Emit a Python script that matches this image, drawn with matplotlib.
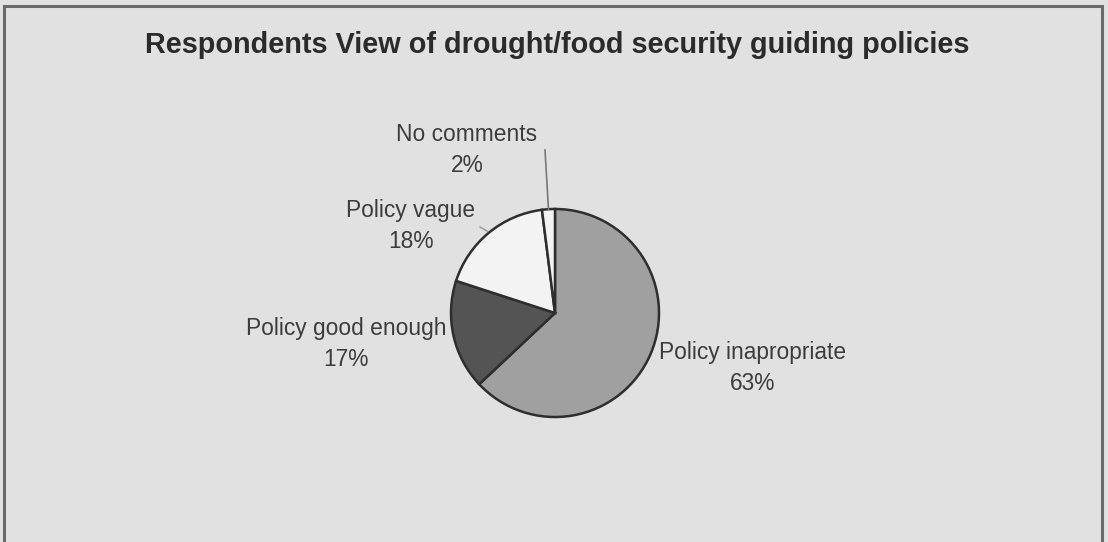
import matplotlib
matplotlib.use("Agg")
from matplotlib import pyplot as plt
from matplotlib.patches import Rectangle
import numpy as np

# chart data
categories = ["Policy inapropriate", "Policy good enough", "Policy vague", "No comments"]
shares = [63, 17, 18, 2]
slice_colors = ["#a0a0a0", "#545454", "#f3f3f3", "#f3f3f3"]

title = "Respondents View of drought/food security guiding policies"

W, H = 1108, 542
cx, cy, r = 555, 313, 104   # pie centre / radius in pixels

fig = plt.figure(figsize=(W / 100, H / 100), dpi=100)
fig.patch.set_facecolor("#e1e1e1")

# axes covering the whole figure, 1 data unit = pie radius
ax = fig.add_axes([0, 0, 1, 1])
ax.set_facecolor("none")
wedges, _ = ax.pie(shares, colors=slice_colors, startangle=90, counterclock=False,
                   radius=1, wedgeprops=dict(edgecolor="#2e2e2e", linewidth=1.8))
ax.set_xlim(-cx / r, (W - cx) / r)
ax.set_ylim(-(H - cy) / r, cy / r)
ax.set_aspect("equal", adjustable="box")
ax.axis("off")


def px(x, y):
    return (x - cx) / r, (cy - y) / r


# slice labels (name + percent)
label_pos = [(753, 368), (346, 344), (411, 226), (467, 150)]
for name, val, (lx, ly) in zip(categories, shares, label_pos):
    tx, ty = px(lx, ly)
    ax.text(tx, ty, f"{name}\n{val}%", ha="center", va="center", fontsize=16.4,
            family="Liberation Sans", color="#3c3c3c", linespacing=1.45)

# leader lines for small slices
def mid_point(w):
    a = np.deg2rad((w.theta1 + w.theta2) / 2)
    return np.cos(a), np.sin(a)

ex, ey = mid_point(wedges[3])
ax.plot([ex, px(545, 150)[0]], [ey, px(545, 150)[1]], color="#777777", lw=1.2)
ex, ey = mid_point(wedges[2])
ax.plot([ex * 1.02, px(480, 227)[0]], [ey * 1.02, px(480, 227)[1]], color="#999999", lw=1.0)

fig.text(557 / W, 1 - 53 / H, title, ha="center", va="baseline", fontsize=20.8,
         fontweight="bold", family="Liberation Sans", color="#2b2b2b")

# outer frame of the scanned chart
fig.patches.append(Rectangle((4 / W, -0.01), (1102 - 4) / W, (H - 6) / H + 0.01,
                             transform=fig.transFigure, fill=False,
                             edgecolor="#6a6a6a", linewidth=2.2))

fig.savefig("out.png", dpi=100, facecolor=fig.get_facecolor())
